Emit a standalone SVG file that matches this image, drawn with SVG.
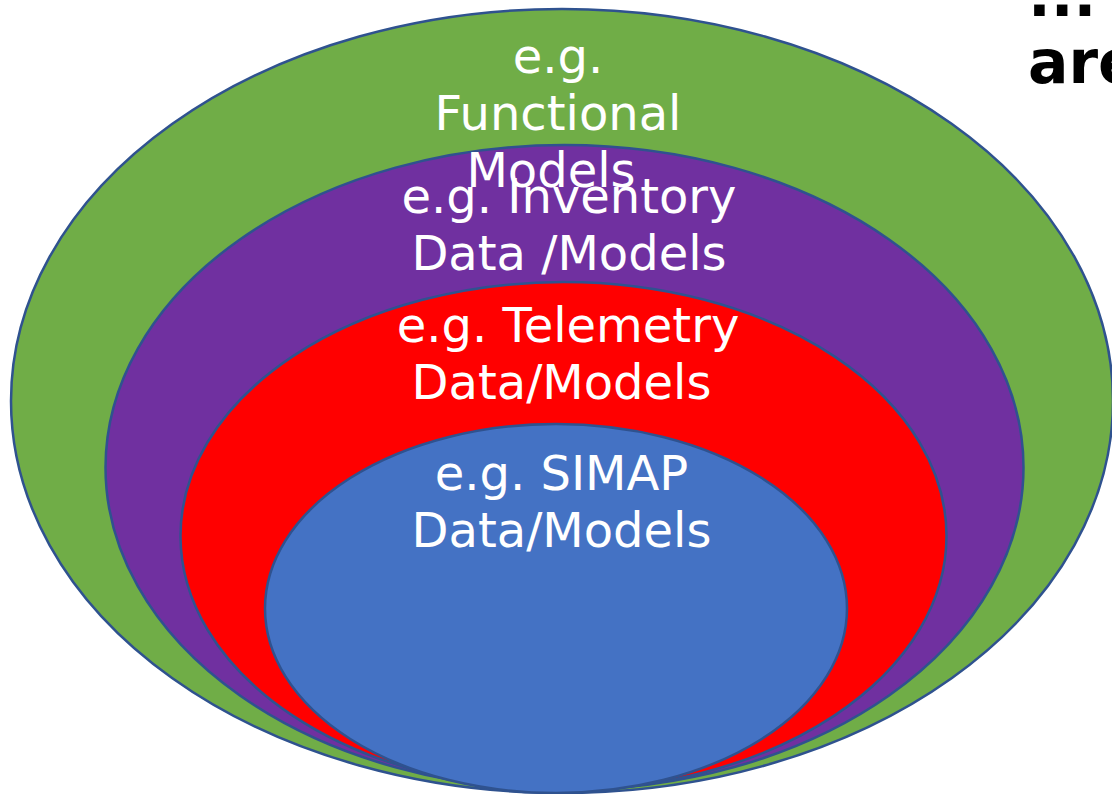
<svg xmlns="http://www.w3.org/2000/svg" width="1112" height="794" viewBox="0 0 1112 794">
<style>
.e{stroke:#2F528F;stroke-width:2.5}
.t{font-family:"DejaVu Sans",sans-serif;font-size:48px;fill:#fff;text-anchor:middle}
.b{font-family:"DejaVu Sans",sans-serif;font-size:60px;font-weight:bold;fill:#000}
</style>
<rect width="1112" height="794" fill="#fff"/>
<g id="functional">
<ellipse class="e" cx="562" cy="401" rx="551" ry="392" fill="#70AD47"/>
</g>
<g id="inventory">
<ellipse class="e" cx="564.5" cy="467.5" rx="459" ry="322.5" fill="#7030A0"/>
</g>
<g id="telemetry">
<ellipse class="e" cx="563.5" cy="536" rx="383" ry="254" fill="#FF0000"/>
</g>
<g id="simap">
<ellipse class="e" cx="556" cy="608.5" rx="291" ry="184.5" fill="#4472C4"/>
</g>
<g id="labels">
<text class="t" x="558" y="73">e.g.</text>
<text class="t" x="558" y="130">Functional</text>
<text class="t" x="551" y="187">Models</text>
<text class="t" x="569" y="213">e.g. Inventory</text>
<text class="t" x="569" y="270">Data /Models</text>
<text class="t" x="568" y="342">e.g. Telemetry</text>
<text class="t" x="561.5" y="399">Data/Models</text>
<text class="t" x="561.5" y="490">e.g. SIMAP</text>
<text class="t" x="561.5" y="547">Data/Models</text>
</g>
<g id="note">
<text class="b" x="1028" y="16">...</text>
<text class="b" x="1028" y="83">are</text>
</g>
<g id="connectors"/>
</svg>
